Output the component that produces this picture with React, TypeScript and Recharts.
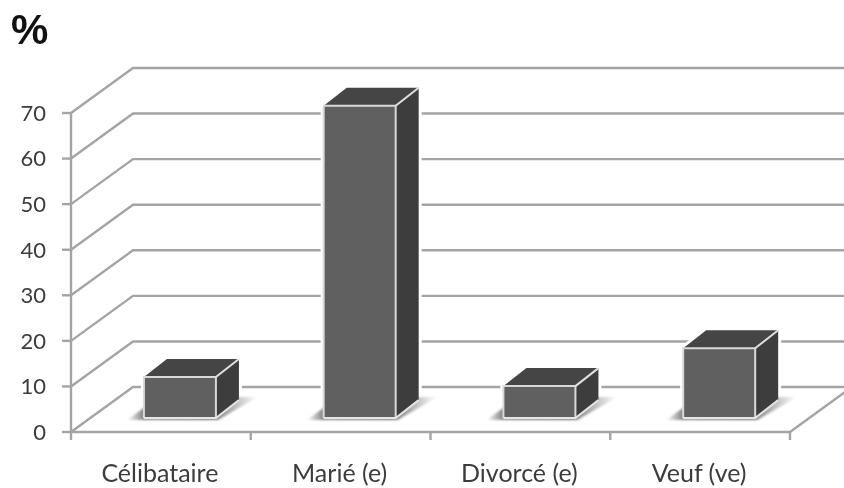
import { Bar, BarChart, CartesianGrid, XAxis, YAxis } from 'recharts'

const categories = ['Célibataire', 'Marié (e)', 'Divorcé (e)', 'Veuf (ve)']
const percents = [9, 68.5, 7, 15.3]
const yTicks = [0, 10, 20, 30, 40, 50, 60, 70]

const data = categories.map((name, i) => ({ name, value: percents[i] }))

const W = 844
const H = 488
const xAxisHeight = 56
const margin = { top: 113, right: 54, bottom: 0, left: 0 }
const axisWidth = 71
const plotBottom = H - xAxisHeight
const band = (W - margin.right - axisWidth) / categories.length

// wall depth and bar depth of the fake 3d
const wallDx = 62
const wallDy = 45
const barShiftX = 19
const barShiftY = 14
const barDx = 23
const barDy = 18

const GRID = '#a4a4a4'
const FONT = 'Lato, sans-serif'

function pts(list: number[][]) {
  return list.map((p) => p.join(',')).join(' ')
}

function WallLine(props: any) {
  const { x1, x2, y1, key } = props
  const bx = x1 + wallDx
  const by = y1 - wallDy
  const isFloor = Math.abs(y1 - plotBottom) < 1
  return (
    <g key={key}>
      <polyline points={pts([[x1, y1], [bx, by], [x2 + wallDx, by]])} fill="none" stroke={GRID} strokeWidth={2.4} />
      {isFloor && <line x1={x2} y1={y1} x2={x2 + wallDx} y2={by} stroke={GRID} strokeWidth={2.4} />}
    </g>
  )
}

function Box3D(props: any) {
  const { x, y, width, height } = props
  const l = x + barShiftX
  const r = l + width
  const t = y - barShiftY
  const b = t + height
  const front = [[l, t], [r, t], [r, b], [l, b]]
  const top = [[l, t], [l + barDx, t - barDy], [r + barDx, t - barDy], [r, t]]
  const side = [[r, t], [r + barDx, t - barDy], [r + barDx, b - barDy], [r, b]]
  const outline = [[l, t], [l + barDx, t - barDy], [r + barDx, t - barDy], [r + barDx, b - barDy], [r, b], [l, b]]
  const shadow = [[l - 17, b + 2], [l + 15, b - 21], [r + 42, b - 21], [r + 2, b + 2]]
  return (
    <g>
      <polygon points={pts(outline)} fill="#fff" stroke="#fff" strokeWidth={6} strokeLinejoin="round" />
      <polygon points={pts(shadow)} fill="url(#floorShadow)" filter="url(#soft)" />
      <polygon points={pts(top)} fill="#454545" />
      <polygon points={pts(side)} fill="#3d3d3d" />
      <polygon points={pts(front)} fill="#606060" />
      <polyline points={pts([[l, b], [l, t], [r, t], [r, b]])} fill="none" stroke="#d9d9d9" strokeWidth={2} />
      <polyline points={pts([[l, b], [r, b], [r + barDx, b - barDy]])} fill="none" stroke="#e6e6e6" strokeWidth={2} />
      <line x1={r} y1={t} x2={r + barDx} y2={t - barDy} stroke="#e0e0e0" strokeWidth={2} />
    </g>
  )
}

function CategoryTick(props: any) {
  const { x, payload, index } = props
  const left = x - band / 2
  return (
    <g>
      <line x1={left} y1={plotBottom} x2={left} y2={plotBottom + 8} stroke={GRID} strokeWidth={2.4} />
      {index === categories.length - 1 && (
        <line x1={x + band / 2} y1={plotBottom} x2={x + band / 2} y2={plotBottom + 8} stroke={GRID} strokeWidth={2.4} />
      )}
      <text x={x - 1} y={plotBottom + 50} textAnchor="middle" fill="#3c3c3c" fontSize={25} fontFamily={FONT}>
        {payload.value}
      </text>
    </g>
  )
}

export default function App() {
  return (
    <div style={{ position: 'absolute', left: 0, top: 0, width: W, height: H, background: '#fff', filter: 'blur(0.4px)' }}>
      <div
        style={{
          position: 'absolute',
          left: 11,
          top: 6,
          fontFamily: 'Liberation Sans, sans-serif',
          fontWeight: 700,
          fontSize: 42,
          color: '#111',
        }}
      >
        %
      </div>
      <BarChart width={W} height={H} data={data} margin={margin} barCategoryGap="30%">
        <defs>
          <linearGradient id="floorShadow" x1="0" y1="0" x2="1" y2="0">
            <stop offset="0" stopColor="#fff" />
            <stop offset="0.12" stopColor="#8a8a8a" />
            <stop offset="0.65" stopColor="#7a7a7a" />
            <stop offset="1" stopColor="#fff" />
          </linearGradient>
          <filter id="soft" x="-20%" y="-20%" width="140%" height="140%">
            <feGaussianBlur stdDeviation="1.2" />
          </filter>
        </defs>
        <CartesianGrid vertical={false} horizontal={WallLine} />
        <XAxis
          dataKey="name"
          height={xAxisHeight}
          axisLine={{ stroke: GRID, strokeWidth: 2.4 }}
          tickLine={false}
          interval={0}
          tick={<CategoryTick />}
        />
        <YAxis
          width={axisWidth}
          domain={[0, 70]}
          ticks={yTicks}
          interval={0}
          axisLine={{ stroke: GRID, strokeWidth: 2.4 }}
          tickLine={{ stroke: GRID, strokeWidth: 2.4 }}
          tickSize={9}
          tickMargin={16}
          tick={{ fill: '#3c3c3c', fontSize: 22, fontFamily: FONT }}
        />
        <Bar dataKey="value" isAnimationActive={false} shape={<Box3D />} />
      </BarChart>
    </div>
  )
}
